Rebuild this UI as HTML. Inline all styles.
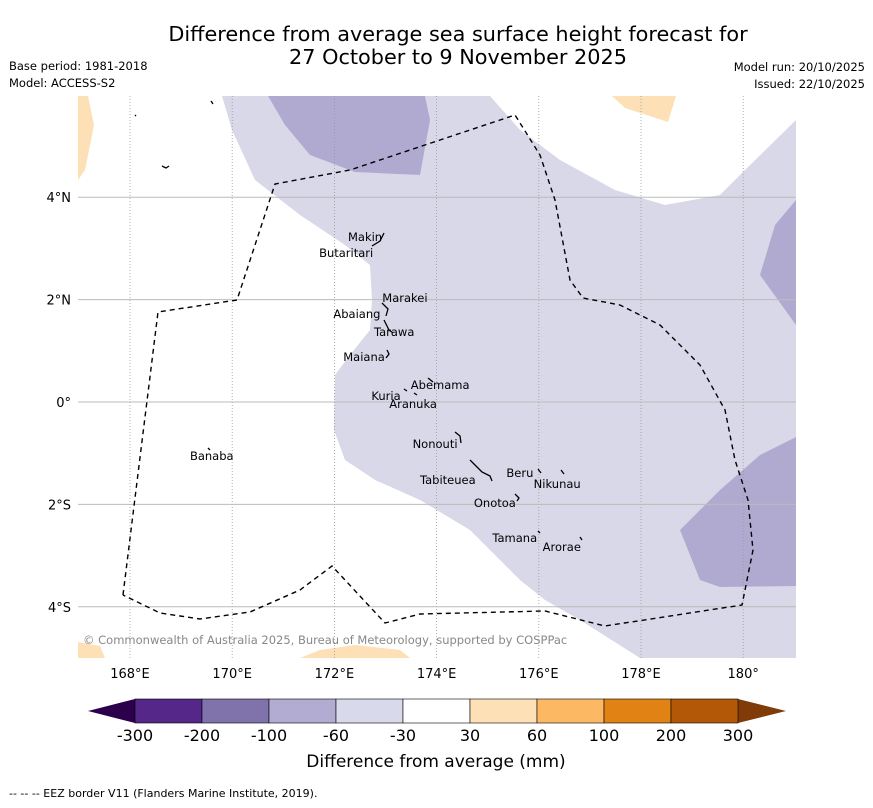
<!DOCTYPE html>
<html><head><meta charset="utf-8"><style>
body{margin:0;background:#fff;width:873px;height:804px;overflow:hidden;font-family:"DejaVu Sans","Liberation Sans",sans-serif;}
svg text{font-family:"DejaVu Sans","Liberation Sans",sans-serif;}
</style></head><body>
<svg width="873" height="804" viewBox="0 0 873 804" xmlns="http://www.w3.org/2000/svg">
<text x="458" y="41" font-size="20.8" text-anchor="middle">Difference from average sea surface height forecast for</text>
<text x="458" y="64" font-size="20.8" text-anchor="middle">27 October to 9 November 2025</text>
<text x="9" y="70" font-size="11.5">Base period: 1981-2018</text>
<text x="9" y="87" font-size="11.5">Model: ACCESS-S2</text>
<text x="865" y="71" font-size="11.5" text-anchor="end">Model run: 20/10/2025</text>
<text x="865" y="88" font-size="11.5" text-anchor="end">Issued: 22/10/2025</text>
<defs><clipPath id="mapclip"><rect x="78" y="96" width="718" height="562"/></clipPath></defs>
<g id="map" clip-path="url(#mapclip)">
<rect x="78" y="96" width="718" height="562" fill="#fff"/>
<polygon fill="#d8d8e9" points="222,96 232,130 255,180 300,215 345,245 370,265 372,300 370,330 350,355 335,375 334,430 345,460 375,480 420,500 470,530 520,580 545,600 580,620 640,658 796,658 796,120 745,170 720,195 665,205 615,190 560,160 520,130 490,96"/>
<polygon fill="#b0aad0" points="268,96 285,125 310,155 355,172 420,175 430,120 425,96"/>
<polygon fill="#b0aad0" points="796,200 775,225 760,275 796,325"/>
<polygon fill="#b0aad0" points="796,437 760,455 720,490 680,530 700,580 720,587 796,586"/>
<polygon fill="#fee0b6" points="78,96 88,96 94,125 85,170 78,180"/>
<polygon fill="#fee0b6" points="612,96 676,96 668,122 625,108"/>
<polygon fill="#fee0b6" points="78,642 100,646 105,658 78,658"/>
<polygon fill="#fee0b6" points="300,658 320,650 355,645 400,650 410,658"/>
<g id="grid"></g>
<polyline fill="none" stroke="#000" stroke-width="1.4" stroke-dasharray="5,4" points="123,595 158,312 237,300 275,184 350,170 440,140 515,115 540,155 555,200 570,280 583,298 620,305 660,325 700,365 725,410 735,460 748,500 753,550 742,605 605,626 545,611 420,614 385,623 332,566 300,590 250,612 200,619 160,613 123,595"/>
<g id="islands" fill="none" stroke="#000" stroke-width="1.3">
<path d="M372,246 L380,241 L384,233"/>
<path d="M382,303 L388,309 L386,316"/>
<path d="M384,320 L389,330 L393,333"/>
<path d="M387,350 L389,354 L386,358"/>
<path d="M428,378 L433,382"/>
<path d="M404,389 L407,391 M414,393 L417,395"/>
<path d="M455,432 L460,436 L461,443"/>
<path d="M470,460 L478,468 L482,472 L490,476 L492,481"/>
<path d="M538,469 L541,473 M561,470 L564,474"/>
<path d="M515,494 L519,498 L517,501"/>
<path d="M538,531 L540,533 M580,537 L582,540"/>
<path d="M208,448 L210,450 M135,115 L136,116 M162,166 L166,168 L169,166 M211,101 L213,104"/>
</g>
<g id="labels" font-size="11.5" fill="#000"></g>
<text x="83" y="644" font-size="11.5" fill="#888">© Commonwealth of Australia 2025, Bureau of Meteorology, supported by COSPPac</text>
</g>
<g id="axes" font-size="13"></g>
<g id="colorbar"></g>
<text x="436" y="767" font-size="17" text-anchor="middle">Difference from average (mm)</text>
<text x="9" y="797" font-size="11">--  --  -- EEZ border V11 (Flanders Marine Institute, 2019).</text>
</svg>
<script>
const lonTicks=[168,170,172,174,176,178,180];
const lonLabels=["168°E","170°E","172°E","174°E","176°E","178°E","180°"];
const latTicks=[4,2,0,-2,-4];
const latLabels=["4°N","2°N","0°","2°S","4°S"];
const islandNames=["Makin","Butaritari","Marakei","Abaiang","Tarawa","Maiana","Abemama","Kuria","Aranuka","Nonouti","Tabiteuea","Beru","Nikunau","Onotoa","Tamana","Arorae","Banaba"];
const islandLon=[172.60,172.23,173.38,172.44,173.17,172.58,174.07,173.01,173.54,173.97,174.22,175.63,176.36,175.14,175.53,176.45,169.60];
const islandLat=[3.22,2.91,2.03,1.72,1.37,0.88,0.33,0.12,-0.04,-0.82,-1.52,-1.39,-1.60,-1.97,-2.66,-2.83,-1.05];
const NS="http://www.w3.org/2000/svg";
function xs(lon){return 130+(lon-168)*51.1;}
function ys(lat){return 402-lat*51.2;}
const grid=document.getElementById('grid');
lonTicks.forEach((t,i)=>{
 const l=document.createElementNS(NS,'line');
 l.setAttribute('x1',xs(t));l.setAttribute('x2',xs(t));l.setAttribute('y1',96);l.setAttribute('y2',658);
 l.setAttribute('stroke','#999');l.setAttribute('stroke-width','0.8');l.setAttribute('stroke-dasharray','1,2');
 
 
 grid.appendChild(l);
});
latTicks.forEach((t,i)=>{
 const l=document.createElementNS(NS,'line');
 l.setAttribute('x1',78);l.setAttribute('x2',796);l.setAttribute('y1',ys(t));l.setAttribute('y2',ys(t));
 l.setAttribute('stroke','#bbb');l.setAttribute('stroke-width','1');
 
 
 grid.appendChild(l);
});
const axes=document.getElementById('axes');
lonTicks.forEach((t,i)=>{
 const tx=document.createElementNS(NS,'text');
 tx.setAttribute('x',xs(t));tx.setAttribute('y',678);tx.setAttribute('text-anchor','middle');
 tx.textContent=lonLabels[i];
 
 
 axes.appendChild(tx);
});
latTicks.forEach((t,i)=>{
 const tx=document.createElementNS(NS,'text');
 tx.setAttribute('x',71);tx.setAttribute('y',ys(t)+5);tx.setAttribute('text-anchor','end');
 tx.textContent=latLabels[i];
 
 
 axes.appendChild(tx);
});
const lab=document.getElementById('labels');
islandNames.forEach((n,i)=>{
 const tx=document.createElementNS(NS,'text');
 tx.setAttribute('x',xs(islandLon[i]));tx.setAttribute('y',ys(islandLat[i])+4);tx.setAttribute('text-anchor','middle');
 tx.textContent=n;
 
 
 lab.appendChild(tx);
});
const cbLabels=["-300","-200","-100","-60","-30","30","60","100","200","300"];
const cbColors=["#542788","#8073ac","#b2abd2","#d8daeb","#ffffff","#fee0b6","#fdb863","#e08214","#b35806"];
const cb=document.getElementById('colorbar');
const x0=135,x1=738,y0=699,h=24,w=(x1-x0)/cbColors.length;
const lt=document.createElementNS(NS,'polygon');
lt.setAttribute('points',`${x0},${y0} ${x0},${y0+h} 88,${y0+h/2}`);lt.setAttribute('fill','#2d004b');


cb.appendChild(lt);
const rt=document.createElementNS(NS,'polygon');
rt.setAttribute('points',`${x1},${y0} ${x1},${y0+h} 786,${y0+h/2}`);rt.setAttribute('fill','#7f3b08');


cb.appendChild(rt);
cbColors.forEach((c,i)=>{
 const r=document.createElementNS(NS,'rect');
 r.setAttribute('x',x0+i*w);r.setAttribute('y',y0);r.setAttribute('width',w);r.setAttribute('height',h);
 r.setAttribute('fill',c);r.setAttribute('stroke','#000');r.setAttribute('stroke-width','0.6');
 
 
 cb.appendChild(r);
});
cbLabels.forEach((s,i)=>{
 const tx=document.createElementNS(NS,'text');
 tx.setAttribute('x',x0+i*w);tx.setAttribute('y',741);tx.setAttribute('text-anchor','middle');tx.setAttribute('font-size','16');
 tx.textContent=s;
 
 
 cb.appendChild(tx);
});
</script>
</body></html>
